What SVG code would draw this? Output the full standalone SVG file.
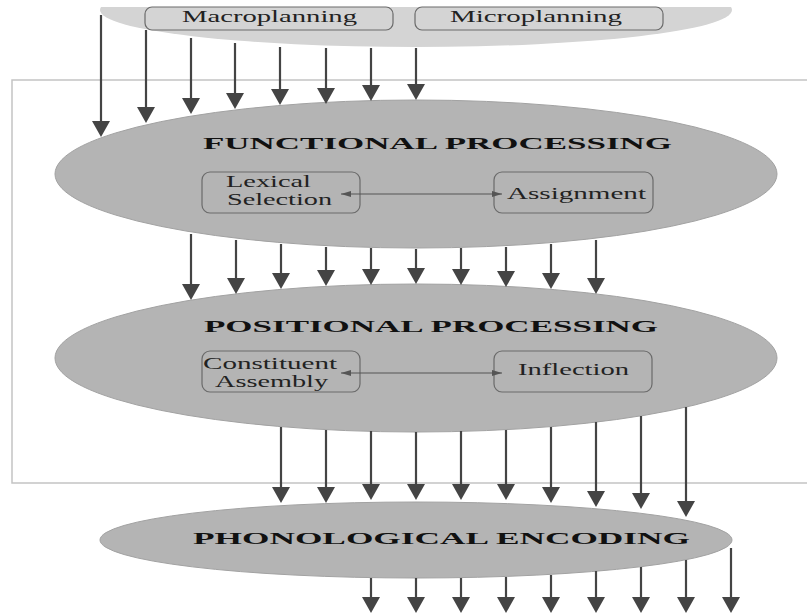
<svg xmlns="http://www.w3.org/2000/svg" width="807" height="616" viewBox="0 0 807 616">
<style>
.ell{fill:#b4b4b4;stroke:#a2a2a2;stroke-width:1}
.top{fill:#d4d4d4;stroke:none}
.box{fill:none;stroke:#6a6a6a;stroke-width:1.2}
.t{font-family:"Liberation Serif","Times New Roman",serif;font-size:16px;fill:#222}
.h{font-family:"Liberation Serif","Times New Roman",serif;font-size:17px;font-weight:bold;fill:#111}
.a{stroke:#444;stroke-width:2.2;fill:none;marker-end:url(#ah)}
.c{stroke:#555;stroke-width:1;fill:none;marker-start:url(#sh);marker-end:url(#sh)}
.frame{fill:none;stroke:#c4c4c4;stroke-width:1.5}
</style>
<defs>
<marker id="ah" viewBox="0 0 16 18" refX="8" refY="9" markerWidth="16" markerHeight="18" markerUnits="userSpaceOnUse" orient="auto">
<path d="M0,0 L16,9 L0,18 z" fill="#444"/>
</marker>
<marker id="sh" viewBox="0 0 10 6" refX="10" refY="3" markerWidth="10" markerHeight="6" markerUnits="userSpaceOnUse" orient="auto-start-reverse">
<path d="M0,0 L10,3 L0,6 z" fill="#555"/>
</marker>
<clipPath id="clipTop"><rect x="0" y="7" width="807" height="100"/></clipPath>
</defs>
<rect width="807" height="616" fill="#fff"/>
<path class="frame" d="M807,80 H12 V483 H807"/>

<g id="planning">
<ellipse class="top" cx="416" cy="10" rx="316" ry="37" clip-path="url(#clipTop)"/>
<g id="macroplanning">
<rect class="box" x="145" y="7" width="248" height="23" rx="7"/>
<text class="t" x="182" y="22" textLength="175" lengthAdjust="spacingAndGlyphs">Macroplanning</text>
</g>
<g id="microplanning">
<rect class="box" x="415" y="7" width="248" height="23" rx="7"/>
<text class="t" x="450" y="22" textLength="172" lengthAdjust="spacingAndGlyphs">Microplanning</text>
</g>
</g>

<g id="functional">
<ellipse class="ell" cx="416" cy="174" rx="361" ry="74"/>
<text class="h" x="203" y="149" textLength="469" lengthAdjust="spacingAndGlyphs">FUNCTIONAL PROCESSING</text>
<g id="lexical-selection">
<rect class="box" x="202" y="172" width="158" height="41" rx="8"/>
<text class="t" x="226" y="187" textLength="85" lengthAdjust="spacingAndGlyphs">Lexical</text>
<text class="t" x="227" y="205" textLength="105" lengthAdjust="spacingAndGlyphs">Selection</text>
</g>
<g id="assignment">
<rect class="box" x="494" y="172" width="159" height="41" rx="8"/>
<text class="t" x="507" y="199" textLength="139" lengthAdjust="spacingAndGlyphs">Assignment</text>
</g>
</g>

<g id="positional">
<ellipse class="ell" cx="416" cy="358" rx="361" ry="74"/>
<text class="h" x="204" y="332" textLength="454" lengthAdjust="spacingAndGlyphs">POSITIONAL PROCESSING</text>
<g id="constituent-assembly">
<rect class="box" x="202" y="351" width="158" height="41" rx="8"/>
<text class="t" x="203" y="369" textLength="134" lengthAdjust="spacingAndGlyphs">Constituent</text>
<text class="t" x="215" y="387" textLength="113" lengthAdjust="spacingAndGlyphs">Assembly</text>
</g>
<g id="inflection">
<rect class="box" x="494" y="351" width="158" height="41" rx="8"/>
<text class="t" x="518" y="375" textLength="111" lengthAdjust="spacingAndGlyphs">Inflection</text>
</g>
</g>

<g id="phonological">
<ellipse class="ell" cx="416" cy="540" rx="316" ry="38"/>
<text class="h" x="193" y="544" textLength="497" lengthAdjust="spacingAndGlyphs">PHONOLOGICAL ENCODING</text>
</g>

<g id="connectors">
<line class="c" x1="341" y1="194" x2="502" y2="194"/>
<line class="c" x1="341" y1="373" x2="502" y2="373"/>

<line class="a" x1="101" y1="15" x2="101" y2="129"/>
<line class="a" x1="146" y1="30" x2="146" y2="115"/>
<line class="a" x1="191" y1="38" x2="191" y2="106"/>
<line class="a" x1="235" y1="43" x2="235" y2="101"/>
<line class="a" x1="280" y1="47" x2="280" y2="97"/>
<line class="a" x1="326" y1="48" x2="326" y2="96"/>
<line class="a" x1="371" y1="48" x2="371" y2="93"/>
<line class="a" x1="416" y1="48" x2="416" y2="92"/>

<line class="a" x1="191" y1="234" x2="191" y2="292"/>
<line class="a" x1="236" y1="240" x2="236" y2="286"/>
<line class="a" x1="281" y1="244" x2="281" y2="281"/>
<line class="a" x1="326" y1="247" x2="326" y2="278"/>
<line class="a" x1="371" y1="248" x2="371" y2="277"/>
<line class="a" x1="416" y1="249" x2="416" y2="276"/>
<line class="a" x1="461" y1="248" x2="461" y2="277"/>
<line class="a" x1="506" y1="247" x2="506" y2="279"/>
<line class="a" x1="551" y1="244" x2="551" y2="281"/>
<line class="a" x1="596" y1="240" x2="596" y2="286"/>

<line class="a" x1="281" y1="427" x2="281" y2="495"/>
<line class="a" x1="326" y1="430" x2="326" y2="495"/>
<line class="a" x1="371" y1="431" x2="371" y2="492"/>
<line class="a" x1="416" y1="432" x2="416" y2="492"/>
<line class="a" x1="461" y1="431" x2="461" y2="492"/>
<line class="a" x1="506" y1="430" x2="506" y2="492"/>
<line class="a" x1="551" y1="427" x2="551" y2="495"/>
<line class="a" x1="596" y1="422" x2="596" y2="499"/>
<line class="a" x1="641" y1="416" x2="641" y2="501"/>
<line class="a" x1="686" y1="407" x2="686" y2="509"/>

<line class="a" x1="371" y1="578" x2="371" y2="605"/>
<line class="a" x1="416" y1="578" x2="416" y2="605"/>
<line class="a" x1="461" y1="578" x2="461" y2="605"/>
<line class="a" x1="506" y1="577" x2="506" y2="605"/>
<line class="a" x1="551" y1="575" x2="551" y2="605"/>
<line class="a" x1="596" y1="571" x2="596" y2="605"/>
<line class="a" x1="641" y1="567" x2="641" y2="605"/>
<line class="a" x1="686" y1="560" x2="686" y2="605"/>
<line class="a" x1="731" y1="548" x2="731" y2="605"/>
</g>
</svg>
